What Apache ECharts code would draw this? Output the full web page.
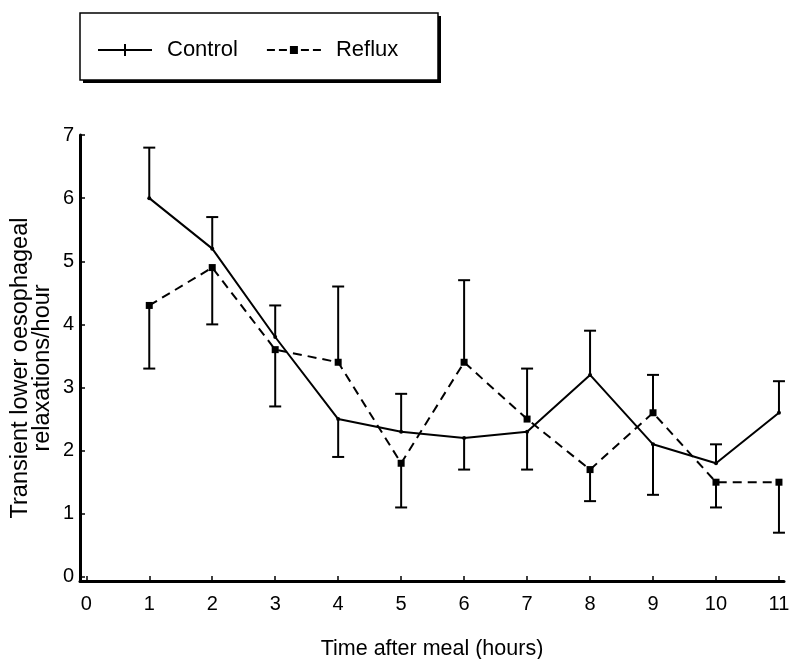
<!DOCTYPE html>
<html>
<head>
<meta charset="utf-8">
<script src="https://cdn.jsdelivr.net/npm/echarts@6/dist/echarts.min.js"></script>
<style>
html,body{margin:0;padding:0;background:#fff;}
#chart{width:790px;height:659px;}
</style>
</head>
<body>
<div id="chart"></div>
<script>
const hours = [1, 2, 3, 4, 5, 6, 7, 8, 9, 10, 11];
const controlMean = [6.0, 5.2, 3.8, 2.5, 2.3, 2.2, 2.3, 3.2, 2.1, 1.8, 2.6];
const controlErrEnd = [6.8, 5.7, 4.3, 1.9, 2.9, 1.7, 1.7, 3.9, 1.3, 2.1, 3.1];
const refluxMean = [4.3, 4.9, 3.6, 3.4, 1.8, 3.4, 2.5, 1.7, 2.6, 1.5, 1.5];
const refluxErrEnd = [3.3, 4.0, 2.7, 4.6, 1.1, 4.7, 3.3, 1.2, 3.2, 1.1, 0.7];
const xTicks = [0, 1, 2, 3, 4, 5, 6, 7, 8, 9, 10, 11];
const yTicks = [0, 1, 2, 3, 4, 5, 6, 7];

const FONT = '"Liberation Sans", Arial, Helvetica, sans-serif';

function errRender(params, api) {
  const x = api.value(0), m = api.value(1), e = api.value(2);
  const p0 = api.coord([x, m]);
  const p1 = api.coord([x, e]);
  return {
    type: 'group',
    children: [
      { type: 'line', shape: { x1: p0[0], y1: p0[1], x2: p1[0], y2: p1[1] }, style: { stroke: '#000', lineWidth: 2 } },
      { type: 'line', shape: { x1: p1[0] - 6, y1: p1[1], x2: p1[0] + 6, y2: p1[1] }, style: { stroke: '#000', lineWidth: 2 } }
    ]
  };
}

const chart = echarts.init(document.getElementById('chart'), null, { renderer: 'canvas' });
chart.setOption({
  animation: false,
  backgroundColor: '#fff',
  textStyle: { fontFamily: FONT, color: '#000' },
  graphic: [
    { type: 'rect', z: -10, shape: { x: 83, y: 16, width: 358, height: 67 }, style: { fill: '#000' } },
    { type: 'rect', z: -9, shape: { x: 80, y: 13, width: 358, height: 67 }, style: { fill: '#fff', stroke: '#000', lineWidth: 1.5 } }
  ],
  legend: {
    z: 20,
    left: 93,
    top: 34,
    itemWidth: 54,
    itemHeight: 12,
    itemGap: 29,
    textStyle: { fontFamily: FONT, fontSize: 22, color: '#000', padding: [0, 0, 0, 10] },
    data: [
      { name: 'Control', icon: 'path://M0,5h54v2h-54z M26,0h2v12h-2z', itemStyle: { color: '#000' } },
      { name: 'Reflux', icon: 'path://M0,5h8v2h-8z M12,5h8v2h-8z M23,2h8v8h-8z M34,5h8v2h-8z M46,5h8v2h-8z', itemStyle: { color: '#000' } }
    ]
  },
  grid: { left: 80, top: 135, width: 704, height: 446, containLabel: false, outerBoundsMode: 'none' },
  xAxis: {
    type: 'value',
    min: -0.1,
    max: 11.08,
    name: 'Time after meal (hours)',
    nameLocation: 'middle',
    nameGap: 57,
    nameMoveOverlap: false,
    nameTextStyle: { fontFamily: FONT, fontSize: 21.5, color: '#000', verticalAlign: 'top' },
    axisLine: { show: true, onZero: false, lineStyle: { color: '#000', width: 3 } },
    axisTick: { show: true, inside: true, length: 5, customValues: xTicks, lineStyle: { color: '#000', width: 1.5 } },
    axisLabel: { customValues: xTicks, margin: 13, fontFamily: FONT, fontSize: 20, color: '#000' },
    splitLine: { show: false }
  },
  yAxis: {
    type: 'value',
    min: -0.065,
    max: 7,
    name: 'Transient lower oesophageal\nrelaxations/hour',
    nameLocation: 'middle',
    nameRotate: 90,
    nameGap: 26,
    nameMoveOverlap: false,
    nameTextStyle: { fontFamily: FONT, fontSize: 23.5, color: '#000', lineHeight: 22, align: 'center', padding: [0, 20, 0, 0] },
    axisLine: { show: true, onZero: false, lineStyle: { color: '#000', width: 3 } },
    axisTick: { show: true, inside: true, length: 5, customValues: yTicks, lineStyle: { color: '#000', width: 1.5 } },
    axisLabel: { customValues: yTicks, margin: 6, fontFamily: FONT, fontSize: 20, color: '#000' },
    splitLine: { show: false }
  },
  series: [
    {
      name: 'Control err', type: 'custom', renderItem: errRender,
      encode: { x: 0, y: [1, 2] },
      data: hours.map((h, i) => [h, controlMean[i], controlErrEnd[i]]),
      silent: true, z: 2
    },
    {
      name: 'Reflux err', type: 'custom', renderItem: errRender,
      encode: { x: 0, y: [1, 2] },
      data: hours.map((h, i) => [h, refluxMean[i], refluxErrEnd[i]]),
      silent: true, z: 2
    },
    {
      name: 'Control', type: 'line',
      data: hours.map((h, i) => [h, controlMean[i]]),
      symbol: 'circle', symbolSize: 4,
      itemStyle: { color: '#000' },
      lineStyle: { color: '#000', width: 2 },
      z: 3
    },
    {
      name: 'Reflux', type: 'line',
      data: hours.map((h, i) => [h, refluxMean[i]]),
      symbol: 'rect', symbolSize: 7,
      itemStyle: { color: '#000' },
      lineStyle: { color: '#000', width: 2, type: [9, 6] },
      z: 3
    }
  ]
});
</script>
</body>
</html>
